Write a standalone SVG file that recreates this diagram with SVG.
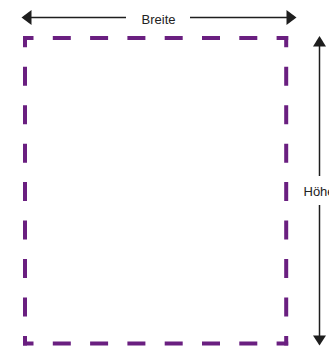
<svg xmlns="http://www.w3.org/2000/svg" width="329" height="346" viewBox="0 0 329 346">
  <style>
    .frame { stroke: #6a1f80; stroke-width: 4; fill: none; }
    .h { stroke-dasharray: 18 19.3; stroke-dashoffset: 7.5; }
    .v { stroke-dasharray: 19 19.45; stroke-dashoffset: 7.7; }
    .dim { stroke: #1e1e1e; stroke-width: 1.5; fill: none; }
    .head { fill: #1e1e1e; }
    .lbl { font-family: "Liberation Sans", Arial, sans-serif; font-size: 13px; fill: #222; }
  </style>
  <rect width="329" height="346" fill="#ffffff"/>
  <g id="frame">
    <line class="frame h" x1="23" y1="38" x2="288.2" y2="38"/>
    <line class="frame h" x1="23" y1="343.5" x2="288.2" y2="343.5"/>
    <line class="frame v" x1="25" y1="36" x2="25" y2="345.5"/>
    <line class="frame v" x1="286.2" y1="36" x2="286.2" y2="345.5"/>
  </g>
  <g id="connectors">
    <line class="dim" x1="30" y1="17.5" x2="126" y2="17.5"/>
    <line class="dim" x1="190" y1="17.5" x2="288" y2="17.5"/>
    <polygon class="head" points="21.5,17.5 31.5,10 31.5,25"/>
    <polygon class="head" points="296.5,17.5 286.5,10 286.5,25"/>
    <line class="dim" x1="319.5" y1="45" x2="319.5" y2="176"/>
    <line class="dim" x1="319.5" y1="205" x2="319.5" y2="337"/>
    <polygon class="head" points="319.5,36 313,46.5 326,46.5"/>
    <polygon class="head" points="319.5,345.5 313,335.5 326,335.5"/>
  </g>
  <g id="label-breite">
    <text class="lbl" x="158.5" y="23.5" text-anchor="middle">Breite</text>
  </g>
  <g id="label-hoehe">
    <text class="lbl" x="303.5" y="196">Höhe</text>
  </g>
</svg>
